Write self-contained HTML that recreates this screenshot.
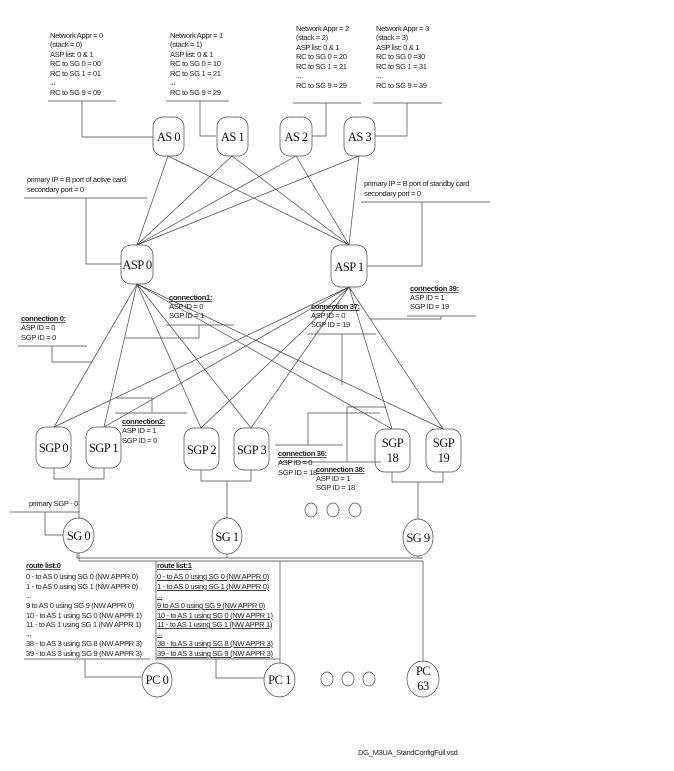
<!DOCTYPE html>
<html><head><meta charset="utf-8"><style>
html,body{margin:0;padding:0;background:#fff}
svg{display:block}
text{font-family:"Liberation Sans",sans-serif;font-size:7.6px;fill:#222;letter-spacing:-0.35px}
.n{font-family:"Liberation Serif",serif;font-size:12.5px;letter-spacing:-0.5px;fill:#111}
.u{text-decoration:underline;font-weight:bold}
</style></head><body>
<svg width="674" height="771" viewBox="0 0 674 771" xmlns="http://www.w3.org/2000/svg">
<g stroke="#444" stroke-width="0.7" fill="none">
<!-- AS annotations -->
<path d="M48 101H116M82 101V137H153"/>
<path d="M166 101H229M200 101V136H216"/>
<path d="M293 103H361M326 103V136H312"/>
<path d="M373 103H442M407 103V136H375"/>
<!-- AS to ASP -->
<path d="M168 156L137 245M168 156L349 245M232 156L137 245M232 156L349 245M296 156L137 245M296 156L349 245M359 156L137 245M359 156L349 245"/>
<!-- primary IP -->
<path d="M24 198H147M86 198V264H121"/>
<path d="M361 202H490M422 202V266H367"/>
<!-- ASP to SGP -->
<path d="M137 284L54 427M137 284L104 427M137 284L201 428M137 284L251 428M137 284L392 429M137 284L443 429"/>
<path d="M349 287L54 427M349 287L104 427M349 287L201 428M349 287L251 428M349 287L392 429M349 287L443 429"/>
<!-- connection callouts -->
<path d="M18 346H87M52 346V362H92"/>
<path d="M166 325H234M199 325V338H125"/>
<path d="M308 334H376M342 334V385"/>
<path d="M407 316H476M441 316V319H370"/>
<path d="M115 413H187M152 413V398H115"/>
<path d="M275 445H343M308 445V413H380"/>
<path d="M278 462H381M347 462V407H386"/>
<!-- SGP to SG -->
<path d="M54 468V479H104V468M79 479V518"/>
<path d="M201 470V481H251V470M227 481V518"/>
<path d="M392 472V482H443V472M418 482V519"/>
<path d="M10 512H79M45 512V535H63"/>
<!-- bus -->
<path d="M79 553V561H423M77 553V558H423M227 554V558M418 556V558"/>
<path d="M280 561V663M423 561V661M156 561V660"/>
<!-- route lists -->
<path d="M24 659H150M85 659V677H142"/>
<path d="M156 659H280M216 659V678H264"/>
<!-- nodes -->
<rect x="153" y="117" width="31" height="39" rx="10"/>
<rect x="217" y="117" width="31" height="39" rx="10"/>
<rect x="280" y="117" width="32" height="39" rx="10"/>
<rect x="344" y="117" width="31" height="39" rx="10"/>
<rect x="121" y="245" width="32" height="39" rx="10"/>
<rect x="331" y="245" width="36" height="42" rx="10"/>
<rect x="36" y="427" width="35" height="41" rx="10"/>
<rect x="86" y="427" width="35" height="41" rx="10"/>
<rect x="184" y="428" width="35" height="42" rx="10"/>
<rect x="234" y="428" width="35" height="42" rx="10"/>
<rect x="375" y="429" width="35" height="43" rx="10"/>
<rect x="426" y="429" width="35" height="43" rx="10"/>
<ellipse cx="78.5" cy="535.5" rx="15.5" ry="17.5"/>
<ellipse cx="227" cy="536" rx="15" ry="18"/>
<ellipse cx="418" cy="537.5" rx="15" ry="18.5"/>
<ellipse cx="157" cy="680" rx="15" ry="17"/>
<ellipse cx="279.5" cy="680" rx="15.5" ry="17"/>
<ellipse cx="423" cy="679" rx="16" ry="18"/>
<ellipse cx="311" cy="510" rx="6" ry="7"/><ellipse cx="333" cy="510" rx="6" ry="7"/><ellipse cx="355" cy="510" rx="6" ry="7"/>
<ellipse cx="327" cy="679" rx="6" ry="7"/><ellipse cx="348" cy="679" rx="6" ry="7"/><ellipse cx="369" cy="679" rx="6" ry="7"/>
</g>
<!-- node labels -->
<g class="n" text-anchor="middle">
<text class="n" x="168.5" y="141">AS 0</text>
<text class="n" x="232.5" y="141">AS 1</text>
<text class="n" x="296" y="141">AS 2</text>
<text class="n" x="359.5" y="141">AS 3</text>
<text class="n" x="137" y="269">ASP 0</text>
<text class="n" x="349" y="271">ASP 1</text>
<text class="n" x="53.5" y="452">SGP 0</text>
<text class="n" x="103.5" y="452">SGP 1</text>
<text class="n" x="201.5" y="454">SGP 2</text>
<text class="n" x="251.5" y="454">SGP 3</text>
<text class="n" x="392.5" y="447">SGP</text><text class="n" x="392.5" y="462">18</text>
<text class="n" x="443.5" y="447">SGP</text><text class="n" x="443.5" y="462">19</text>
<text class="n" x="78.5" y="540">SG 0</text>
<text class="n" x="227" y="541">SG 1</text>
<text class="n" x="418" y="542">SG 9</text>
<text class="n" x="157" y="684">PC 0</text>
<text class="n" x="279.5" y="684">PC 1</text>
<text class="n" x="423" y="675">PC</text><text class="n" x="423" y="690">63</text>
</g>
<!-- AS notes -->
<text x="50" y="38">Network Appr = 0</text><text x="50" y="47">(stack = 0)</text><text x="50" y="57">ASP list: 0 &amp; 1</text><text x="50" y="66">RC to SG 0 = 00</text><text x="50" y="76">RC to SG 1 = 01</text><text x="50" y="85">...</text><text x="50" y="95">RC to SG 9 = 09</text>
<text x="170" y="38">Network Appr = 1</text><text x="170" y="47">(stack = 1)</text><text x="170" y="57">ASP list: 0 &amp; 1</text><text x="170" y="66">RC to SG 0 = 10</text><text x="170" y="76">RC to SG 1 = 21</text><text x="170" y="85">...</text><text x="170" y="95">RC to SG 9 = 29</text>
<text x="296" y="31">Network Appr = 2</text><text x="296" y="40">(stack = 2)</text><text x="296" y="50">ASP list: 0 &amp; 1</text><text x="296" y="59">RC to SG 0 = 20</text><text x="296" y="69">RC to SG 1 = 21</text><text x="296" y="78">...</text><text x="296" y="88">RC to SG 9 = 29</text>
<text x="376" y="31">Network Appr = 3</text><text x="376" y="40">(stack = 3)</text><text x="376" y="50">ASP list: 0 &amp; 1</text><text x="376" y="59">RC to SG 0 =30</text><text x="376" y="69">RC to SG 1 = 31</text><text x="376" y="78">...</text><text x="376" y="88">RC to SG 9 = 39</text>
<text x="27" y="182">primary IP = B port of active card</text><text x="27" y="192">secondary port = 0</text>
<text x="364" y="186">primary IP = B port of standby card</text><text x="364" y="196">secondary port = 0</text>
<!-- connections -->
<text class="u" x="21" y="321">connection 0:</text><text x="21" y="330">ASP ID = 0</text><text x="21" y="340">SGP ID = 0</text>
<text class="u" x="169" y="300">connection1:</text><text x="169" y="309">ASP ID = 0</text><text x="169" y="318">SGP ID = 1</text>
<text class="u" x="311" y="309">connection 37:</text><text x="311" y="318">ASP ID = 0</text><text x="311" y="327">SGP ID = 19</text>
<text class="u" x="410" y="291">connection 39:</text><text x="410" y="300">ASP ID = 1</text><text x="410" y="309">SGP ID = 19</text>
<text class="u" x="122" y="424">connection2:</text><text x="122" y="433">ASP ID = 1</text><text x="122" y="443">SGP ID = 0</text>
<text class="u" x="278" y="456">connection 36:</text><text x="278" y="465">ASP ID = 0</text><text x="278" y="475">SGP ID = 18</text>
<text class="u" x="316" y="472">connection 38:</text><text x="316" y="481">ASP ID = 1</text><text x="316" y="490">SGP ID = 18</text>
<text x="29" y="506">primary SGP - 0</text>
<!-- route lists -->
<text class="u" x="26" y="568">route list:0</text>
<text x="26" y="579">0 - to AS 0 using SG 0 (NW APPR 0)</text><text x="26" y="589">1 - to AS 0 using SG 1 (NW APPR 0)</text><text x="26" y="598">...</text><text x="26" y="608">9 to AS 0 using SG 9 (NW APPR 0)</text><text x="26" y="618">10 - to AS 1 using SG 0 (NW APPR 1)</text><text x="26" y="627">11 - to AS 1 using SG 1 (NW APPR 1)</text><text x="26" y="636">...</text><text x="26" y="646">38 - to AS 3 using SG 8 (NW APPR 3)</text><text x="26" y="656">39 - to AS 3 using SG 9 (NW APPR 3)</text>
<g style="text-decoration:underline">
<text class="u" x="157" y="568">route list:1</text>
<text x="157" y="579" text-decoration="underline">0 - to AS 0 using SG 0 (NW APPR 0)</text><text x="157" y="589" text-decoration="underline">1 - to AS 0 using SG 1 (NW APPR 0)</text><text x="157" y="598" text-decoration="underline">...</text><text x="157" y="608" text-decoration="underline">9 to AS 0 using SG 9 (NW APPR 0)</text><text x="157" y="618" text-decoration="underline">10 - to AS 1 using SG 0 (NW APPR 1)</text><text x="157" y="627" text-decoration="underline">11 - to AS 1 using SG 1 (NW APPR 1)</text><text x="157" y="636" text-decoration="underline">...</text><text x="157" y="646" text-decoration="underline">38 - to AS 3 using SG 8 (NW APPR 3)</text><text x="157" y="656" text-decoration="underline">39 - to AS 3 using SG 9 (NW APPR 3)</text>
</g>
<text x="358" y="755">DG_M3UA_StandConfigFull.vsd</text>
</svg>
</body></html>
